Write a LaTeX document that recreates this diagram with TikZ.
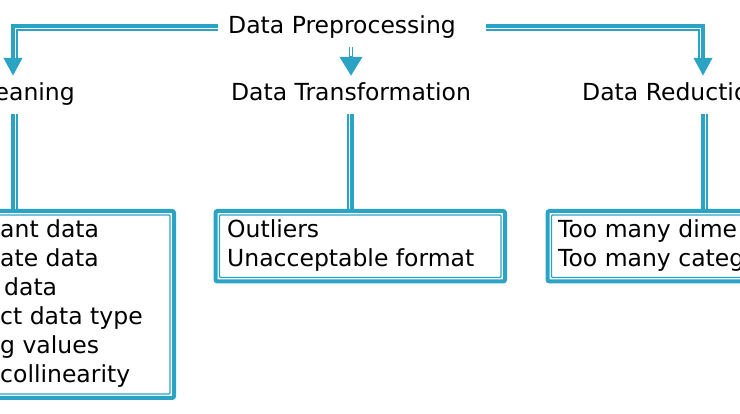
\documentclass[tikz,border=0pt]{standalone}
\usepackage{fontspec}
\setmainfont{DejaVu Sans}
\usetikzlibrary{arrows.meta}
\definecolor{prepblue}{RGB}{42,163,196}

\begin{document}
\begin{tikzpicture}[x=1pt, y=-1pt,
    txt/.style={inner sep=0pt, font=\fontsize{23.5}{29}\selectfont},
    heading/.style={txt, text height=17pt, text depth=5pt},
    stage/.style={heading, inner ysep=8pt},
    items/.style={txt, align=left},
    box/.style={draw=prepblue, line width=4pt, rounded corners=2pt, outer sep=0pt, inner sep=0pt},
    thickline/.style={draw=prepblue, line width=4pt},
    thinline/.style={draw=prepblue, line width=1.2pt},
    shaft/.style={draw=prepblue, line width=1.7pt, double=white, double distance=1.2pt},
    headtip/.style={-{Triangle[width=18pt,length=18pt]}},
]
    \useasboundingbox (0,0) rectangle (740,414);
    \clip (0,0) rectangle (740,414);
    \fill[white] (0,0) rectangle (740,414);

    % Columns of the three branches
    \coordinate (clx) at (13,0);
    \coordinate (clxin) at (17,0);
    \coordinate (trx) at (352,0);
    \coordinate (trxin) at (348,0);
    \coordinate (rdx) at (703,0);
    \coordinate (rdxin) at (699,0);
    \coordinate (rdxlow) at (707,0);

    % Title and stages
    \node[heading] (pre) at (342,28) {Data Preprocessing};
    \node[stage, anchor=base east] (clean) at (75,101) {eaning};
    \node[stage, anchor=base] (trans) at (351,101) {Data Transformation};
    \node[stage, anchor=base west] (red) at (582,101) {Data Reductio};

    % Boxes
    \node[box, minimum width=274pt, minimum height=187pt, anchor=north east] (clbox) at (174,211) {};
    \node[box, minimum width=289.5pt, minimum height=70.5pt, anchor=north west] (trbox) at (215.5,211) {};
    \node[box, minimum width=300pt, minimum height=70.5pt, anchor=north west] (rdbox) at (547.5,211) {};
    \draw[thinline, rounded corners=1pt] ([shift={(4,4)}]clbox.north west) rectangle ([shift={(-4,-4)}]clbox.south east);
    \draw[thinline, rounded corners=1pt] ([shift={(4,4)}]trbox.north west) rectangle ([shift={(-4,-4)}]trbox.south east);
    \draw[thinline, rounded corners=1pt] ([shift={(4,4)}]rdbox.north west) rectangle ([shift={(-4,-4)}]rdbox.south east);

    % Box texts
    \node[items, anchor=north west] (clitems) at (0,219.5) {ant data\\ate data\\\hspace*{4pt}data\\ct data type\\g values\\collinearity};
    \node[items, anchor=north west] (tritems) at (227,219.5) {Outliers\\Unacceptable format};
    \node[items, anchor=north west] (rditems) at (558,219.5) {Too many dime\\Too many categ};

    % Ends of the arrow shafts
    \coordinate (clhead) at ([yshift=18pt]clean.north);
    \coordinate (trhead) at ([yshift=20pt]trans.north);
    \coordinate (rdhead) at ([yshift=18pt]red.north);

    % Left branch
    \draw[thickline, headtip] ([shift={(-10,-2)}]pre.west) -| (clean.north -| clx);
    \draw[thinline] ([shift={(-10,2)}]pre.west) -| (clhead -| clxin);

    % Middle branch
    \draw[shaft, shorten <=8pt] (pre.south -| trans.north) -- (trhead);
    \draw[thickline, -{Triangle[width=22pt,length=19pt]}] (trhead) -- (trans.north);

    % Right branch
    \draw[thickline, headtip] ([shift={(30,-2)}]pre.east) -| (red.north -| rdx);
    \draw[thinline] ([shift={(30,2)}]pre.east) -| (rdhead -| rdxin);

    % Stages down to their boxes
    \draw[thickline] (clean.south -| clx) -- (clbox.north -| clx);
    \draw[thinline] (clean.south -| clxin) -- (clbox.north -| clxin);
    \draw[thickline] (trans.south -| trx) -- (trbox.north -| trx);
    \draw[thinline] (trans.south -| trxin) -- (trbox.north -| trxin);
    \draw[thickline] (red.south -| rdx) -- (rdbox.north -| rdx);
    \draw[thinline] (red.south -| rdxlow) -- (rdbox.north -| rdxlow);
\end{tikzpicture}
\end{document}
